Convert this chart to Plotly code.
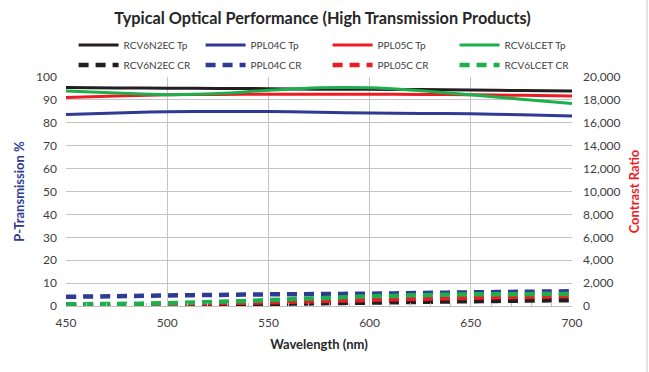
import plotly.graph_objects as go

wavelength = [450, 475, 500, 525, 550, 575, 600, 625, 650, 675, 700]

rcv6n2ec_tp = [95.4, 95.2, 95.1, 95.0, 94.9, 94.7, 94.6, 94.5, 94.3, 94.1, 93.9]
ppl04c_tp = [83.6, 84.3, 84.8, 84.9, 84.9, 84.6, 84.3, 84.1, 83.9, 83.5, 83.0]
ppl05c_tp = [91.0, 91.7, 92.2, 92.4, 92.5, 92.5, 92.5, 92.4, 92.2, 92.0, 91.7]
rcv6lcet_tp = [93.9, 93.0, 92.3, 92.8, 94.2, 95.3, 95.3, 94.0, 92.2, 90.3, 88.4]

rcv6n2ec_cr = [10, 30, 60, 110, 180, 240, 300, 360, 420, 470, 510]
ppl04c_cr = [800, 860, 925, 970, 1015, 1045, 1075, 1135, 1190, 1240, 1280]
ppl05c_cr = [120, 145, 180, 250, 330, 430, 540, 630, 715, 790, 865]
rcv6lcet_cr = [150, 185, 240, 360, 510, 680, 840, 940, 1015, 1035, 1045]

tp_series = [
    ("RCV6N2EC Tp", rcv6n2ec_tp, "#231F20"),
    ("PPL04C Tp", ppl04c_tp, "#2E3A94"),
    ("PPL05C Tp", ppl05c_tp, "#ED1C24"),
    ("RCV6LCET Tp", rcv6lcet_tp, "#1DAF4B"),
]
cr_series = [
    ("RCV6N2EC CR", rcv6n2ec_cr, "#231F20"),
    ("PPL04C CR", ppl04c_cr, "#2E3A94"),
    ("PPL05C CR", ppl05c_cr, "#ED1C24"),
    ("RCV6LCET CR", rcv6lcet_cr, "#1DAF4B"),
]

FONT = "Lato"
fig = go.Figure()
for i, (name, vals, col) in enumerate(tp_series):
    fig.add_trace(go.Scatter(x=wavelength, y=vals, name=name, mode="lines",
                             line=dict(color=col, width=3, shape="spline"),
                             legend="legend",
                             legendwidth=(60 if i == 3 else None)))
for i, (name, vals, col) in enumerate(cr_series):
    fig.add_trace(go.Scatter(x=wavelength, y=vals, name=name, mode="lines",
                             line=dict(color=col, width=4.5, dash="10px,7px", shape="spline"),
                             yaxis="y2", legend="legend2",
                             legendwidth=(60 if i == 3 else None)))

W, H = 649, 372
ml, mr, mt, mb = 66, 77, 77, 66
ph = H - mt - mb
pw = W - ml - mr

def py(pix):
    return (H - mb - pix) / ph

leg_common = dict(orientation="h", xanchor="left", yanchor="middle",
                  font=dict(family=FONT, size=10, color="#404040"),
                  entrywidth=72, entrywidthmode="pixels", bgcolor="rgba(0,0,0,0)",
                  itemwidth=40, tracegroupgap=0)

fig.update_layout(
    width=W, height=H,
    margin=dict(l=ml, r=mr, t=mt, b=mb, autoexpand=False),
    paper_bgcolor="white", plot_bgcolor="white",
    font=dict(family=FONT, color="#404040"),
    title=dict(text="<b>Typical Optical Performance (High Transmission Products)</b>",
               x=0.497, xanchor="center", y=1 - 18 / H, yanchor="middle",
               font=dict(family=FONT, size=16.3, color="#262626")),
    legend=dict(x=0.015, y=py(45), **leg_common),
    legend2=dict(x=0.015, y=py(65), **leg_common),
    xaxis=dict(range=[450, 700], dtick=50, tick0=450,
               showgrid=True, gridcolor="#C4C4C4", gridwidth=1,
               showline=True, linecolor="#BFBFBF", linewidth=1,
               zeroline=False, ticks="", ticklabelstandoff=6,
               minor=dict(dtick=10, ticks="inside", ticklen=3, tickcolor="#BFBFBF", showgrid=False),
               tickfont=dict(family=FONT, size=12, color="#404040"),
               title=dict(text="<b>Wavelength (nm)</b>", standoff=10,
                          font=dict(family=FONT, size=13, color="#262626"))),
    yaxis=dict(range=[0, 100], dtick=10, showgrid=True, gridcolor="#C4C4C4", gridwidth=1,
               zeroline=False, showline=False, ticks="", ticklabelstandoff=8,
               tickfont=dict(family=FONT, size=12, color="#404040"),
               title=dict(text="<b>P-Transmission %</b>", standoff=8,
                          font=dict(family=FONT, size=13, color="#2E3A94"))),
    yaxis2=dict(range=[0, 20000], dtick=2000, overlaying="y", side="right",
                showgrid=False, zeroline=False, showline=False, ticks="",
                tickformat=",d", ticklabelstandoff=10,
                tickfont=dict(family=FONT, size=12, color="#404040"),
                title=dict(text="<b>Contrast Ratio</b>", standoff=10,
                           font=dict(family=FONT, size=13, color="#ED1C24"))),
    showlegend=True,
)

fig.add_shape(type="line", xref="paper", yref="paper",
              x0=(W - 2 - ml) / pw, x1=(W - 2 - ml) / pw,
              y0=-mb / ph, y1=(ph + mt) / ph,
              line=dict(color="#C8C8C8", width=1))

fig.write_html("out.html", config={"displayModeBar": False},
               post_script="document.body.style.margin='0';document.body.style.overflow='hidden';")
